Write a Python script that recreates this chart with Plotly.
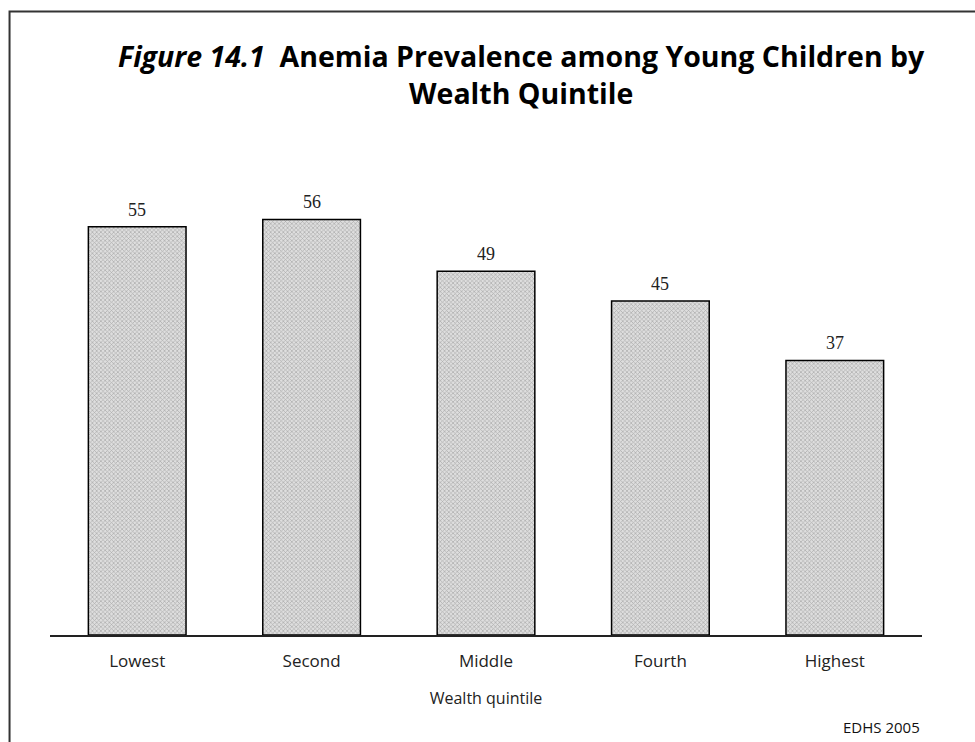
import plotly.graph_objects as go

# Anemia prevalence among young children, by wealth quintile (percent)
quintiles = ["Lowest", "Second", "Middle", "Fourth", "Highest"]
prevalence = [55, 56, 49, 45, 37]

title_text = "<i>Figure 14.1</i>  Anemia Prevalence among Young Children by<br>Wealth Quintile"
x_title = "Wealth quintile"
source_note = "EDHS 2005"

sans = "Open Sans, Lato, DejaVu Sans, sans-serif"
serif = "Liberation Serif, Times New Roman, serif"

fig = go.Figure()
fig.add_trace(go.Bar(
    x=quintiles,
    y=prevalence,
    width=0.56,
    marker=dict(
        color="#c4c4c4",
        line=dict(color="black", width=1.5),
        pattern=dict(shape="x", fgcolor="#777777", bgcolor="#dedede", size=3, solidity=0.4),
    ),
    hoverinfo="x+y",
))

# value labels above each bar
for q, v in zip(quintiles, prevalence):
    fig.add_annotation(
        x=q, y=v, text=str(v), showarrow=False,
        yanchor="bottom", yshift=5,
        font=dict(family=serif, size=18, color="#222"),
    )

# two-line figure title
fig.add_annotation(
    xref="paper", yref="paper", x=0.541, y=1.181, xanchor="center", yanchor="middle",
    text=title_text, showarrow=False, align="center",
    font=dict(family=sans, size=28.5, color="black", weight="bold"),
)

# source note, bottom right
fig.add_annotation(
    xref="paper", yref="paper", x=1.0, y=-0.193, xanchor="right", yanchor="middle",
    text=source_note, showarrow=False,
    font=dict(family=sans, size=15, color="#111"),
)

# frame along the top and left edges
fig.add_shape(type="rect", xref="paper", yref="paper",
              x0=-0.0464, x1=1.2, y0=-0.4, y1=1.3126,
              line=dict(color="#333", width=2), fillcolor="rgba(0,0,0,0)", layer="above")

fig.update_layout(
    width=975, height=742,
    margin=dict(l=50, r=53, t=160, b=107),
    paper_bgcolor="white", plot_bgcolor="white",
    showlegend=False,
    xaxis=dict(
        showline=True, linecolor="#222", linewidth=1.5,
        ticks="", showgrid=False,
        range=[-0.5, 4.5],
        ticklabelstandoff=10,
        tickfont=dict(family=sans, size=17, color="#222"),
        title=dict(text=x_title, font=dict(family=sans, size=16, color="#222"), standoff=22),
    ),
    yaxis=dict(
        visible=False, range=[0, 64], showgrid=False,
    ),
)

fig.write_html("out.html")
